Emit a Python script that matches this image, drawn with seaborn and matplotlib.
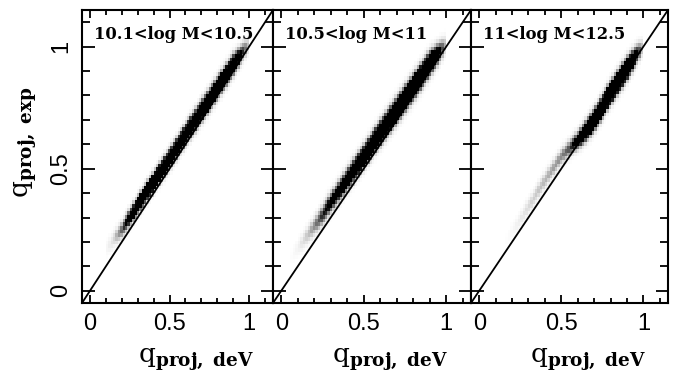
import numpy as np
import seaborn as sns
import matplotlib.pyplot as plt
from matplotlib.ticker import MultipleLocator

sns.set_theme(style="white")
plt.rcParams["font.family"] = ["Liberation Sans", "DejaVu Sans"]
plt.rcParams["mathtext.fontset"] = "dejavuserif"

# Stellar-mass bins shown in the three panels
mass_bins = ["10.1<log M<10.5", "10.5<log M<11", "11<log M<12.5"]

# Ridge of the q_exp vs q_deV distribution in each mass bin:
# knots in q_deV, mean offset (q_exp - q_deV), scatter in q_exp, peak density
ridge_q_dev = [
    [0.10, 0.15, 0.20, 0.25, 0.30, 0.40, 0.50, 0.60, 0.70, 0.80, 0.90, 0.95, 1.00],
    [0.05, 0.10, 0.15, 0.20, 0.25, 0.30, 0.40, 0.50, 0.60, 0.70, 0.80, 0.90, 0.95, 1.00],
    [0.15, 0.20, 0.25, 0.30, 0.40, 0.50, 0.55, 0.60, 0.65, 0.70, 0.80, 0.90, 0.95, 1.00],
]
ridge_offset = [
    [0.07, 0.06, 0.05, 0.05, 0.05, 0.045, 0.04, 0.04, 0.035, 0.03, 0.025, 0.02, 0.01],
    [0.08, 0.075, 0.07, 0.065, 0.06, 0.06, 0.055, 0.05, 0.045, 0.04, 0.035, 0.03, 0.02, 0.01],
    [0.04, 0.04, 0.04, 0.045, 0.05, 0.05, 0.035, 0.015, 0.005, 0.0, 0.01, 0.01, 0.01, 0.0],
]
ridge_width = [
    [0.022, 0.022, 0.022, 0.022, 0.022, 0.023, 0.024, 0.025, 0.026, 0.026, 0.026, 0.024, 0.022],
    [0.022, 0.022, 0.024, 0.025, 0.026, 0.026, 0.027, 0.028, 0.029, 0.03, 0.03, 0.029, 0.027, 0.024],
    [0.022, 0.022, 0.022, 0.022, 0.022, 0.022, 0.022, 0.023, 0.025, 0.026, 0.027, 0.027, 0.025, 0.022],
]
ridge_density = [
    [0.05, 0.25, 0.7, 1.4, 2.0, 2.3, 2.3, 2.3, 2.3, 2.3, 2.0, 1.1, 0.25],
    [0.0, 0.1, 0.3, 0.55, 0.9, 1.2, 1.7, 2.3, 2.6, 2.6, 2.6, 2.4, 1.4, 0.25],
    [0.0, 0.06, 0.15, 0.25, 0.4, 0.55, 0.8, 1.3, 2.0, 2.5, 2.7, 2.6, 1.5, 0.25],
]

tick_values = [0, 0.5, 1]
tick_labels = ["0", "0.5", "1"]
lims = (-0.05, 1.15)
bin_size = 0.015

edges = np.round(np.arange(lims[0], lims[1] + bin_size / 2, bin_size), 4)
centers = 0.5 * (edges[:-1] + edges[1:])
gx, gy = np.meshgrid(centers, centers, indexing="ij")

fig = plt.figure(figsize=(6.81, 3.79), dpi=100)
W, H = 681.0, 379.0
panel_px = [(82, 273), (273, 471), (471, 668)]
top_px, bottom_px = 10, 303

for i, (x0, x1) in enumerate(panel_px):
    ax = fig.add_axes([x0 / W, 1 - bottom_px / H, (x1 - x0) / W, (bottom_px - top_px) / H])

    knots = np.array(ridge_q_dev[i])
    amp = np.interp(gx, knots, ridge_density[i], left=0, right=0)
    mu = gx + np.interp(gx, knots, ridge_offset[i])
    sig = np.interp(gx, knots, ridge_width[i])
    dens = np.clip(amp * np.exp(-0.5 * ((gy - mu) / sig) ** 2), 0, 1)
    keep = dens > 0.012

    sns.histplot(
        x=gx[keep], y=gy[keep], weights=dens[keep],
        bins=[edges, edges], cmap="Greys", vmin=0, vmax=1,
        cbar=False, ax=ax,
    )
    ax.axline((0, 0), (1, 1), color="black", lw=1.3)

    ax.set_xlim(lims)
    ax.set_ylim(lims)
    ax.set_xlabel("")
    ax.set_ylabel("")
    ax.set_xticks(tick_values, labels=tick_labels)
    ax.set_yticks(tick_values, labels=tick_labels)
    ax.xaxis.set_minor_locator(MultipleLocator(0.1))
    ax.yaxis.set_minor_locator(MultipleLocator(0.1))
    ax.tick_params(which="both", direction="in", top=True, right=True,
                   bottom=True, left=True, color="black", width=1.3,
                   labelsize=17, labelcolor="black")
    ax.tick_params(axis="x", which="major", length=6, pad=7)
    ax.tick_params(axis="x", which="minor", length=3.4)
    ax.tick_params(axis="y", which="major", length=9, pad=7)
    ax.tick_params(axis="y", which="minor", length=6)
    if i == 0:
        for lab in ax.get_yticklabels():
            lab.set_rotation(90)
            lab.set_va("center")
    else:
        ax.tick_params(axis="y", labelleft=False)
    for sp in ax.spines.values():
        sp.set_color("black")
        sp.set_linewidth(1.5)
    ax.grid(False)

    ax.text(12 / (x1 - x0), 0.918, mass_bins[i], transform=ax.transAxes,
            ha="left", va="center", fontsize=11.8, fontweight="bold",
            family="DejaVu Serif", color="black")

    fig.text(((x0 + x1) / 2 + 18) / W, 1 - 360 / H,
             r"$\mathrm{q}_{\mathbf{proj,\ deV}}$",
             ha="center", va="center", fontsize=19, color="black")

fig.text(26 / W, 1 - 142 / H, r"$\mathrm{q}_{\mathbf{proj,\ exp}}$",
         ha="center", va="center", rotation=90, fontsize=19, color="black")

fig.savefig("out.png", dpi=100)
